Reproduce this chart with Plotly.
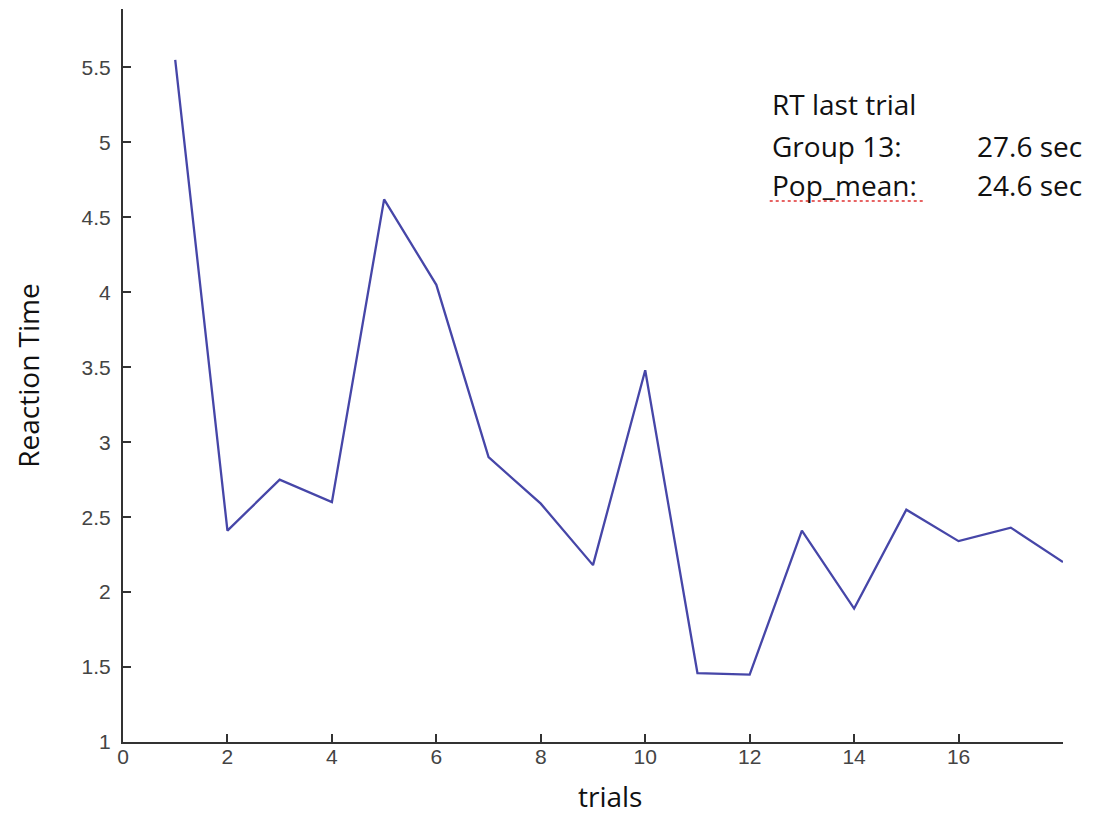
import plotly.graph_objects as go

trials = list(range(1, 19))
reaction_time = [5.55, 2.41, 2.75, 2.60, 4.62, 4.05, 2.90, 2.59, 2.18,
                 3.48, 1.46, 1.45, 2.41, 1.89, 2.55, 2.34, 2.43, 2.20]

x_tickvals = [0, 2, 4, 6, 8, 10, 12, 14, 16]
y_tickvals = [1, 1.5, 2, 2.5, 3, 3.5, 4, 4.5, 5, 5.5]
y_ticktext = ["1", "1.5", "2", "2.5", "3", "3.5", "4", "4.5", "5", "5.5"]

note_labels = ["RT last trial", "Group 13:", "Pop_mean:"]
note_values = ["", "27.6 sec", "24.6 sec"]

fig = go.Figure()
fig.add_trace(go.Scatter(
    x=trials, y=reaction_time, mode="lines",
    line=dict(color="#4646a8", width=2.3),
    showlegend=False, hoverinfo="x+y",
))

tick_font = dict(family="Liberation Sans, Arial, sans-serif", size=21, color="#444444")
title_font = dict(family="Open Sans, sans-serif", size=28, color="#111111")

fig.update_layout(
    width=1093, height=815,
    margin=dict(l=123, r=30, t=9, b=73),
    paper_bgcolor="white", plot_bgcolor="white",
    xaxis=dict(
        range=[0, 18], tickmode="array", tickvals=x_tickvals,
        ticks="inside", ticklen=8, tickwidth=2, tickcolor="#333333",
        showline=True, linecolor="#333333", linewidth=2,
        showgrid=False, zeroline=False, automargin=False,
        tickfont=tick_font, ticklabelstandoff=-5,
    ),
    yaxis=dict(
        range=[1, 5.89], tickmode="array", tickvals=y_tickvals, ticktext=y_ticktext,
        ticks="inside", ticklen=8, tickwidth=2, tickcolor="#333333",
        showline=True, linecolor="#333333", linewidth=2,
        showgrid=False, zeroline=False, automargin=False,
        tickfont=tick_font, ticklabelstandoff=6,
        title=dict(text="Reaction Time", font=title_font, standoff=34),
    ),
)

# x-axis title placed as in the reference
fig.add_annotation(x=0.518, y=-0.074, xref="paper", yref="paper", text="trials",
                   showarrow=False, xanchor="center", yanchor="middle", font=title_font)

ys = [0.870, 0.813, 0.760]
note_font = dict(family="Open Sans, sans-serif", size=28, color="#111111")
for lab, val, yy in zip(note_labels, note_values, ys):
    fig.add_annotation(x=0.688, y=yy, xref="paper", yref="paper", text=lab,
                       showarrow=False, xanchor="left", yanchor="middle", font=note_font)
    if val:
        fig.add_annotation(x=0.906, y=yy, xref="paper", yref="paper", text=val,
                           showarrow=False, xanchor="left", yanchor="middle", font=note_font)

# spell-check style underline under "Pop_mean"
fig.add_shape(type="line", xref="paper", yref="paper", x0=0.688, x1=0.853, y0=0.738, y1=0.738,
              line=dict(color="#e03030", width=1.5, dash="dot"))

fig.write_html("out.html", config={"displayModeBar": False},
               post_script="document.body.style.margin='0';document.body.style.overflow='hidden';")
